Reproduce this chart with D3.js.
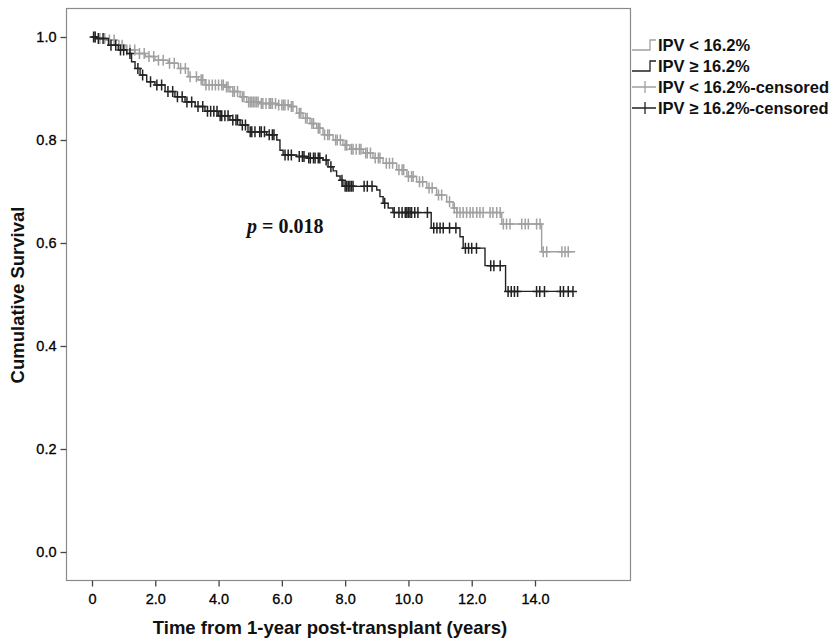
<!doctype html>
<html>
<head>
<meta charset="utf-8" />
<title>Kaplan-Meier – IPV groups</title>
<style>
  html,body{margin:0;background:#fff}
  svg text{font-family:"Liberation Sans", Arial, sans-serif}
</style>
</head>
<body>
<svg id="chart" width="837" height="642"></svg>
<script src="https://cdn.jsdelivr.net/npm/d3@7"></script>
<script>
// ---------- data ----------
const xTicks = [0, 2, 4, 6, 8, 10, 12, 14];
const yTicks = [0, 0.2, 0.4, 0.6, 0.8, 1.0];

// IPV < 16.2%  (step times / survival after step)
const lowTime = [0, 0.15, 0.41, 0.73, 1.04, 1.36, 1.68, 1.99, 2.41, 2.73, 3.04, 3.36, 3.57, 4.2, 4.36, 4.68, 4.89, 5.31, 5.84, 6.26, 6.47, 6.67, 6.89, 7.10, 7.30, 7.62, 7.93, 8.15, 8.57, 8.88, 9.2, 9.63, 9.95, 10.26, 10.58, 10.89, 11.21, 11.41, 11.53, 12.95, 14.21];
const lowSurv = [1.0, 0.997, 0.994, 0.984, 0.975, 0.968, 0.962, 0.955, 0.949, 0.939, 0.923, 0.917, 0.907, 0.903, 0.894, 0.884, 0.874, 0.871, 0.868, 0.865, 0.852, 0.842, 0.832, 0.823, 0.810, 0.800, 0.790, 0.782, 0.775, 0.765, 0.755, 0.742, 0.729, 0.719, 0.707, 0.693, 0.680, 0.668, 0.659, 0.637, 0.583];
const lowEnd = 15.27;
const lowCensor = [0.1, 0.25, 0.4, 0.55, 0.7, 0.85, 0.95, 1.1, 1.2, 1.35, 1.5, 1.65, 1.8, 1.95, 2.1, 2.25, 2.45, 2.6, 2.8, 2.95, 3.1, 3.3, 3.45, 3.5, 3.6, 3.7, 3.8, 3.9, 4.0, 4.1, 4.15, 4.25, 4.3, 4.45, 4.5, 4.6, 4.75, 4.8, 4.95, 5.0, 5.05, 5.1, 5.15, 5.2, 5.25, 5.35, 5.4, 5.5, 5.6, 5.65, 5.7, 5.8, 5.9, 6.0, 6.05, 6.1, 6.2, 6.3, 6.35, 6.55, 6.6, 6.75, 6.8, 6.95, 7.0, 7.15, 7.2, 7.35, 7.45, 7.5, 7.7, 7.75, 7.85, 8.0, 8.05, 8.2, 8.25, 8.35, 8.45, 8.5, 8.65, 8.7, 8.8, 8.95, 9.05, 9.1, 9.3, 9.4, 9.5, 9.7, 9.8, 9.85, 10.0, 10.1, 10.15, 10.35, 10.45, 10.65, 10.75, 10.95, 11.05, 11.3, 11.45, 11.53, 11.63, 11.73, 11.84, 11.95, 12.04, 12.16, 12.26, 12.36, 12.58, 12.67, 12.79, 12.9, 13.0, 13.1, 13.21, 13.58, 13.69, 13.79, 14.05, 14.16, 14.26, 14.37, 14.85, 14.95, 15.05];

// IPV >= 16.2%
const highTime = [0, 0.15, 0.52, 0.83, 1.10, 1.25, 1.36, 1.52, 1.73, 1.99, 2.31, 2.62, 2.94, 3.26, 3.57, 3.99, 4.36, 4.68, 4.93, 5.52, 5.84, 5.94, 6.04, 6.47, 6.79, 7.30, 7.46, 7.62, 7.73, 7.84, 7.93, 9.0, 9.10, 9.20, 9.36, 9.51, 10.72, 11.63, 11.73, 12.42, 13.07];
const highSurv = [1.0, 0.997, 0.984, 0.975, 0.968, 0.952, 0.939, 0.926, 0.913, 0.907, 0.894, 0.884, 0.874, 0.865, 0.856, 0.847, 0.839, 0.829, 0.816, 0.810, 0.800, 0.780, 0.771, 0.768, 0.765, 0.761, 0.748, 0.740, 0.730, 0.722, 0.710, 0.703, 0.690, 0.677, 0.668, 0.659, 0.629, 0.612, 0.590, 0.556, 0.506];
const highEnd = 15.2;
const highCensor = [0.05, 0.1, 0.2, 0.35, 0.6, 0.75, 0.9, 1.0, 1.2, 1.45, 1.6, 1.85, 2.05, 2.2, 2.4, 2.55, 2.7, 2.85, 3.0, 3.15, 3.35, 3.5, 3.65, 3.75, 3.85, 3.95, 4.05, 4.1, 4.2, 4.3, 4.45, 4.55, 4.6, 4.75, 4.85, 5.0, 5.05, 5.15, 5.3, 5.35, 5.45, 5.6, 5.7, 5.75, 6.1, 6.2, 6.3, 6.55, 6.65, 6.7, 6.85, 6.9, 7.0, 7.05, 7.15, 7.2, 7.4, 7.55, 7.9, 8.0, 8.05, 8.1, 8.15, 8.2, 8.25, 8.6, 8.7, 8.85, 9.25, 9.55, 9.7, 9.8, 9.9, 9.95, 10.0, 10.05, 10.1, 10.2, 10.3, 10.6, 10.8, 10.9, 11.0, 11.1, 11.3, 11.5, 11.8, 11.9, 12.0, 12.15, 12.6, 12.7, 12.9, 13.15, 13.25, 13.35, 13.45, 14.05, 14.15, 14.3, 14.8, 14.9, 15.05, 15.2];

const legendLabels = ["IPV < 16.2%", "IPV \u2265 16.2%", "IPV < 16.2%-censored", "IPV \u2265 16.2%-censored"];

// ---------- layout ----------
const LIGHT = "#a0a0a0", DARK = "#222";
const frame = {left: 66, right: 630, top: 8, bottom: 580};
const svg = d3.select("#chart");

const x = d3.scaleLinear().domain([0, 14]).range([92, 535]);
const y = d3.scaleLinear().domain([0, 1]).range([552, 37]);

// frame
svg.append("rect")
  .attr("x", frame.left + 0.5).attr("y", frame.top + 0.5)
  .attr("width", frame.right - frame.left).attr("height", frame.bottom - frame.top)
  .attr("fill", "none").attr("stroke", "#8a8a8a").attr("stroke-width", 1.2);

// axes
const yAxis = svg.append("g").attr("transform", `translate(${frame.left + 0.5},0)`)
  .call(d3.axisLeft(y).tickValues(yTicks).tickFormat(d3.format(".1f")).tickSize(6).tickPadding(4));
const xAxis = svg.append("g").attr("transform", `translate(0,${frame.bottom + 0.5})`)
  .call(d3.axisBottom(x).tickValues(xTicks).tickFormat(d => d === 0 ? "0" : d3.format(".1f")(d)).tickSize(6).tickPadding(7));
[xAxis, yAxis].forEach(a => {
  a.select(".domain").remove();
  a.selectAll(".tick line").attr("stroke", "#444").attr("stroke-width", 1.3);
  a.selectAll(".tick text").attr("fill", "#000").style("font-size", "14.5px")
    .style("font-family", '"Liberation Sans", Arial, sans-serif')
    .attr("stroke", "#000").attr("stroke-width", 0.3);
});

// axis titles
svg.append("text").attr("x", 330).attr("y", 634).attr("text-anchor", "middle")
  .style("font-size", "18.5px").style("font-weight", "bold").attr("fill", "#111")
  .text("Time from 1-year post-transplant (years)");
svg.append("text").attr("transform", "translate(24,295) rotate(-90)").attr("text-anchor", "middle")
  .style("font-size", "18.5px").style("font-weight", "bold").attr("fill", "#111")
  .text("Cumulative Survival");

// curves
function survAt(times, surv, t){
  return surv[Math.max(0, d3.bisectRight(times, t) - 1)];
}
const line = d3.line().x(d => x(d[0])).y(d => y(d[1])).curve(d3.curveStepAfter);
const groups = [
  {times: lowTime, surv: lowSurv, end: lowEnd, cens: lowCensor, color: LIGHT},
  {times: highTime, surv: highSurv, end: highEnd, cens: highCensor, color: DARK}
];
groups.forEach(g => {
  const pts = g.times.map((t, i) => [t, g.surv[i]]);
  pts.push([g.end, g.surv[g.surv.length - 1]]);
  svg.append("path").datum(pts).attr("d", line)
    .attr("fill", "none").attr("stroke", g.color).attr("stroke-width", 1.4);
  svg.append("g").selectAll("path").data(g.cens).join("path")
    .attr("d", t => {
      const cx = x(t), cy = y(survAt(g.times, g.surv, t));
      return `M${cx},${cy - 5.5}V${cy + 5.5}M${cx - 4},${cy}H${cx + 4}`;
    })
    .attr("stroke", g.color).attr("stroke-width", 1.5).attr("fill", "none");
});

// p value
const pt = svg.append("text").attr("x", 247).attr("y", 233)
  .style("font-family", '"Liberation Serif", "Times New Roman", serif')
  .style("font-size", "20px").style("font-weight", "bold").attr("fill", "#111");
pt.append("tspan").style("font-style", "italic").text("p");
pt.append("tspan").text(" = 0.018");

// legend
const leg = svg.append("g").attr("transform", "translate(632,0)");
const legY = [45, 66, 87, 108];
legendLabels.forEach((lab, i) => {
  const cy = legY[i];
  const col = i % 2 === 0 ? LIGHT : DARK;
  if (i < 2) {
    leg.append("path").attr("d", `M0,${cy + 5}H18V${cy - 5}H24`)
      .attr("fill", "none").attr("stroke", col).attr("stroke-width", 1.3);
  } else {
    leg.append("path").attr("d", `M0,${cy}H24M13,${cy - 6}V${cy + 6}`)
      .attr("fill", "none").attr("stroke", col).attr("stroke-width", 1.3);
  }
  leg.append("text").attr("x", 26).attr("y", cy + 6)
    .style("font-size", "16.5px").style("font-weight", "bold").attr("fill", "#111")
    .text(lab);
});
</script>
</body>
</html>
